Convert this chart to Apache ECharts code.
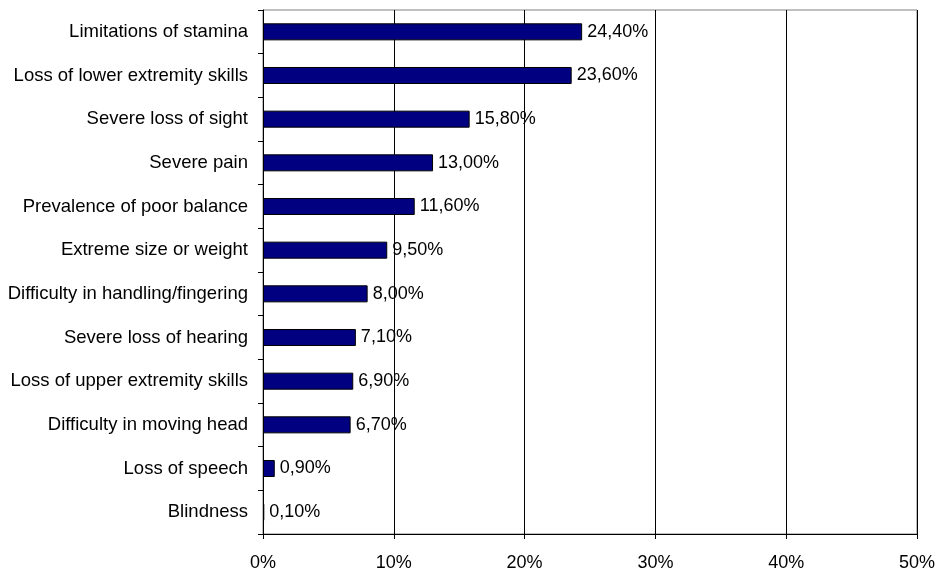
<!DOCTYPE html>
<html><head><meta charset="utf-8">
<script src="https://cdn.jsdelivr.net/npm/echarts@6/dist/echarts.min.js"></script>
<style>html,body{margin:0;padding:0;background:#fff}#c{width:938px;height:572px}</style>
</head><body><div id="c"></div>
<script>
const categories = ["Blindness","Loss of speech","Difficulty in moving head","Loss of upper extremity skills","Severe loss of hearing","Difficulty in handling/fingering","Extreme size or weight","Prevalence of poor balance","Severe pain","Severe loss of sight","Loss of lower extremity skills","Limitations of stamina"];
const values = [0.1,0.9,6.7,6.9,7.1,8.0,9.5,11.6,13.0,15.8,23.6,24.4];
const xTicks = [0,10,20,30,40,50];

const chart = echarts.init(document.getElementById('c'), null, {renderer:'canvas'});
const font = 'Arial, "Liberation Sans", sans-serif';
chart.setOption({
  animation:false,
  grid:{left:263,right:21,top:10,bottom:38,show:true,borderColor:'#808080',borderWidth:1,backgroundColor:'transparent'},
  xAxis:{type:'value',min:xTicks[0],max:xTicks[xTicks.length-1],interval:10,
    axisLine:{show:true,lineStyle:{color:'#000',width:1}},
    axisTick:{show:true,length:5,lineStyle:{color:'#000'}},
    splitLine:{show:true,lineStyle:{color:'#000',width:1}},
    axisLabel:{formatter:v=>v+'%',color:'#000',fontSize:18,fontFamily:font,margin:20}},
  yAxis:{type:'category',data:categories,
    axisLine:{show:true,lineStyle:{color:'#000',width:1}},
    axisTick:{show:true,length:5,inside:false,lineStyle:{color:'#000'}},
    axisLabel:{color:'#000',fontSize:18.5,fontFamily:font,margin:15}},
  series:[{type:'bar',data:values,barCategoryGap:'61%',
    itemStyle:{color:'#000080',borderColor:'#000',borderWidth:1},
    label:{show:true,position:'right',distance:5,color:'#000',fontSize:18,fontFamily:font,
      formatter:p=>p.value.toFixed(2).replace('.',',')+'%'}}]
});
</script></body></html>
